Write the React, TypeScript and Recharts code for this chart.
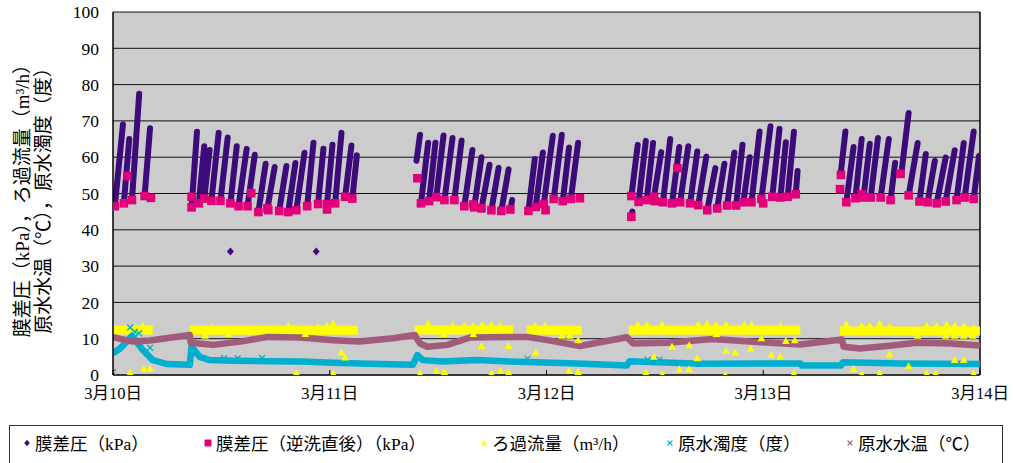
import React from 'react';
import { ComposedChart, Line, Scatter, XAxis, YAxis, CartesianGrid, ReferenceLine } from 'recharts';

const FONT = "'Liberation Serif', 'Noto Sans CJK JP', serif";
const PURPLE = '#3D0A7A';
const PINK = '#E2007A';
const YELLOW = '#FFFF00';
const CYAN = '#00AECF';
const MAUVE = '#A05C7A';

// x is hours from 3/10 0:00
const dateLabels = ['3月10日', '3月11日', '3月12日', '3月13日', '3月14日'];
const hourTicks = [0, 24, 48, 72, 96];
const yTicks = [0, 10, 20, 30, 40, 50, 60, 70, 80, 90, 100];

// 膜差圧 filtration cycles: [start h, start kPa, end h, end kPa]
const tmpCycles = [
  [0.2, 46.5, 1.1, 69], [1.2, 47.3, 1.8, 65], [2.1, 48.2, 2.9, 77.5], [3.5, 49.3, 4.1, 68],
  [8.7, 46.2, 9.3, 67], [9.5, 47.3, 10.1, 63], [10.1, 48.6, 10.7, 62], [10.9, 48, 11.7, 66.7],
  [11.9, 48, 12.7, 65.4], [13.0, 47.3, 13.7, 63], [13.9, 46.5, 14.8, 62.3], [14.9, 46.5, 15.7, 60.7],
  [16.1, 44.9, 16.9, 58.2], [17.1, 45.9, 17.9, 57.3], [18.4, 45.2, 19.2, 57.6], [19.4, 44.9, 20.2, 58.4],
  [20.3, 45.4, 21.2, 61.2], [21.5, 46.5, 22.2, 64], [22.7, 47.1, 23.3, 62.3], [23.7, 47.1, 24.3, 63.4],
  [24.6, 47.3, 25.3, 66.7], [25.7, 49.1, 26.4, 63.2], [26.5, 48.6, 27.0, 60.5],
  [33.6, 59, 34.0, 66.2], [34.1, 47.3, 34.9, 64], [35.0, 47.9, 35.7, 64], [35.8, 49, 36.6, 66],
  [36.7, 48.2, 37.6, 65.3], [37.8, 48.2, 38.6, 64.6], [38.9, 46.5, 39.8, 62], [40.0, 46.2, 40.8, 60],
  [40.8, 45.9, 41.7, 57.9], [41.9, 45.4, 42.7, 57.1], [43.0, 45.2, 43.8, 56.7], [44.0, 45.6, 44.2, 48.2],
  [46.0, 45.2, 46.7, 59.5], [46.8, 46.3, 47.6, 61.3], [47.7, 47.1, 48.7, 65.9], [48.8, 48.5, 49.7, 66.2],
  [49.8, 47.9, 50.5, 62.7], [50.7, 48.5, 51.5, 64],
  [57.3, 43.6, 57.5, 45], [57.4, 49.3, 58.1, 63.4], [58.2, 47.7, 59.0, 64.5], [59.1, 48.2, 59.8, 63.9],
  [59.9, 49.1, 60.7, 61.4], [60.9, 47.6, 61.7, 65], [61.9, 47.3, 62.7, 62.8], [62.8, 47.6, 63.7, 63],
  [63.9, 47.3, 64.7, 61.6], [64.8, 46.8, 65.7, 60.2], [65.8, 45.4, 66.7, 57], [66.9, 45.9, 67.7, 58.2],
  [68.0, 46.7, 68.8, 61.3], [69.0, 46.7, 69.7, 63.4], [69.8, 47.6, 70.5, 60], [70.7, 47.6, 71.6, 67.1],
  [71.8, 48.5, 72.8, 68.5], [73.0, 49.1, 73.8, 67.8], [73.9, 48.9, 74.5, 64.1], [74.7, 49.1, 75.4, 67],
  [75.6, 49.8, 75.8, 56.2],
  [80.6, 56, 81.1, 67.1], [81.2, 47.6, 82.0, 62.8], [82.2, 48.7, 82.9, 65], [83.1, 48.9, 83.8, 63.7],
  [83.9, 48.9, 84.7, 65.3], [85.0, 48.9, 85.9, 65], [86.1, 48.2, 86.6, 58.5], [87.3, 55.7, 88.1, 72.2],
  [88.1, 49.5, 89.1, 63.9], [89.3, 47.8, 90.0, 60.9], [90.2, 47.6, 91.0, 59], [91.2, 47.3, 92.2, 59.9],
  [92.2, 47.8, 93.2, 61.9], [93.4, 48.2, 94.2, 63.9], [94.3, 48.9, 95.3, 67.1], [95.3, 48.5, 95.9, 60.4],
];
const tmpStray = [[13.0, 34], [22.5, 34]];

// 膜差圧(逆洗直後)
const tmpAfterBackwash = [
  [0.2, 46.5], [1.2, 47.3], [1.6, 54.8], [2.1, 48.2], [3.5, 49.3], [4.2, 48.8],
  [8.7, 49.1], [8.7, 46.2], [9.5, 47.3], [10.1, 48.6], [10.9, 48], [11.9, 48], [13.0, 47.3], [13.9, 46.5],
  [14.9, 46.5], [15.3, 50.1], [16.1, 44.9], [17.1, 45.9], [17.2, 45.4], [18.4, 45.2], [19.4, 44.9],
  [20.3, 45.4], [21.5, 46.5], [22.7, 47.1], [23.7, 45.6], [23.7, 47.1], [24.6, 47.3], [25.7, 49.1], [26.5, 48.6],
  [33.7, 54.2], [34.1, 47.3], [35.0, 47.9], [35.8, 49], [36.7, 48.2], [37.8, 48.2], [38.9, 46.5], [39.9, 47],
  [40.0, 46.2], [40.8, 45.9], [41.9, 45.4], [43.0, 45.2], [44.0, 45.6],
  [46.0, 45.2], [46.8, 46.3], [47.7, 47.1], [47.9, 45.4], [48.8, 48.5], [49.8, 47.9], [50.7, 48.5], [51.7, 48.7],
  [57.4, 43.6], [57.4, 49.3], [58.2, 47.7], [59.1, 48.2], [59.9, 49.1], [60.0, 47.9], [60.9, 47.6], [61.9, 47.3],
  [62.5, 57], [62.8, 47.6], [63.9, 47.3], [64.8, 46.8], [65.8, 45.4], [66.9, 45.9], [68.0, 46.7], [69.0, 46.7],
  [69.8, 47.6], [70.7, 47.6], [71.8, 48.5], [72.0, 47.3], [73.0, 49.1], [73.9, 48.9], [74.7, 49.1], [75.6, 49.8],
  [80.5, 51.2], [80.6, 55.1], [81.2, 47.6], [82.2, 48.7], [82.9, 49.8], [83.1, 48.9], [83.9, 48.9], [85.0, 48.9],
  [86.1, 48.2], [87.2, 55.4], [88.1, 49.5], [89.3, 47.8], [90.2, 47.6], [91.2, 47.3], [92.2, 47.8], [93.4, 48.2],
  [94.3, 48.9], [95.3, 48.5],
];

// ろ過流量: runs [start h, end h, m3/h] and scattered readings
const flowRuns = [
  [0, 4.4, 12.4], [8.5, 27.1, 12.3], [33.4, 44.3, 12.4], [45.8, 51.9, 12.3], [57.1, 76.1, 12.3], [80.5, 96, 12.1],
];
const flowStray = [
  [1.9, 0.6], [3.3, 13.6], [3.4, 1.7], [4.1, 1.7],
  [10.2, 10.8], [10.9, 13.3], [12.8, 11.3], [19.4, 13.6], [20.3, 0.6], [21.3, 11.3], [22.7, 13.3], [23.7, 13.6],
  [24.4, 14.2], [24.4, 0.4], [25.3, 6.2], [25.7, 4.8],
  [34.0, 0.4], [34.9, 14.2], [35.8, 1.1], [36.6, 11.3], [36.7, 0.8], [37.6, 13.6], [38.9, 13.6], [39.9, 11.3],
  [39.9, 13.6], [40.8, 8.0], [40.9, 13.9], [41.9, 0.4], [41.9, 13.9], [42.9, 1.1], [42.9, 13.6], [43.8, 8.0], [43.8, 0.6],
  [46.7, 13.6], [46.8, 6.2], [47.8, 13.6], [49.7, 10.8], [50.5, 1.1], [50.6, 10.8], [51.5, 9.6], [51.5, 0.8],
  [58.1, 13.9], [59.0, 0.6], [59.1, 13.9], [59.9, 5.0], [60.8, 13.9], [60.8, 0.2], [61.9, 7.8], [62.7, 1.6],
  [63.8, 8.2], [63.8, 1.6], [64.7, 4.6], [64.8, 13.9], [65.8, 14.2], [66.8, 13.9], [66.8, 11.3], [67.8, 0.0],
  [67.9, 13.9], [67.9, 6.6], [68.9, 6.2], [69.9, 13.9], [70.6, 7.3], [70.7, 13.9], [71.8, 10.1], [72.9, 5.5],
  [73.9, 13.6], [73.9, 5.0], [74.5, 9.4], [75.4, 0.4], [75.5, 9.6],
  [81.2, 13.9], [82.0, 1.6], [82.9, 13.6], [82.9, 0.2], [83.8, 13.6], [84.9, 14.2], [84.9, 0.4], [86.0, 13.3],
  [86.0, 5.7], [88.1, 2.5], [89.1, 10.8], [90.1, 13.6], [90.1, 0.4], [91.1, 0.4], [91.2, 13.6], [92.2, 10.8],
  [92.3, 13.9], [93.2, 13.6], [93.2, 10.8], [93.2, 4.1], [94.2, 13.6], [94.2, 10.8], [94.2, 4.1], [95.2, 10.8],
  [95.3, 13.0], [95.3, 0.4],
];

// 原水濁度
const turbidity = [
  [0, 6], [0.8, 7.3], [2.1, 10.8], [3.3, 6.9], [4.4, 4.1], [6.0, 3.0], [8.5, 2.8], [8.7, 7.8], [9.6, 5.0],
  [10.7, 4.1], [13.3, 3.9], [17.1, 3.8], [20.7, 3.7], [24.4, 3.4], [27.3, 3.2], [33.2, 2.8], [33.7, 5.5],
  [34.3, 4.1], [36.5, 3.7], [40.3, 4.1], [44.0, 3.7], [51.4, 3.2], [56.9, 2.6], [57.2, 3.8], [65.0, 3.1],
  [76.1, 3.2], [76.3, 2.6], [80.6, 2.6], [80.8, 3.5], [87.2, 3.2], [96, 3.0],
];
const turbidityMarks = [
  [1.9, 13.1], [2.4, 11.9], [2.9, 11.5], [4.1, 7.5], [12.3, 4.6], [13.8, 4.6], [16.5, 4.7], [45.9, 4.5],
  [59.2, 4.2], [60.5, 4.2],
];

// 原水水温
const waterTemp = [
  [0, 10.4], [2.2, 9.2], [4.1, 9.5], [8.5, 11], [8.6, 8.9], [11.1, 8.3], [14.1, 9.2], [17.1, 10.5],
  [20.7, 10.3], [24.4, 9.6], [27.3, 9.2], [31.0, 10.1], [33.4, 11], [34.0, 8.7], [34.8, 7.8], [37.0, 8.3],
  [39.5, 10.3], [45.8, 10.5], [48.1, 9.6], [51.7, 8.0], [56.9, 10.4], [57.6, 8.7], [61.4, 8.9], [66.4, 9.9],
  [70.5, 9.2], [76.1, 8.4], [80.7, 9.8], [80.9, 7.8], [82.7, 7.3], [85.7, 8.0], [89.0, 8.9], [92.7, 8.7], [96, 8.1],
];
const waterTempMarks = [[0, 0.8]];

const legendItems = [
  { name: '膜差圧（kPa）', kind: 'diamond', color: PURPLE },
  { name: '膜差圧（逆洗直後）（kPa）', kind: 'square', color: PINK },
  { name: 'ろ過流量（m³/h）', kind: 'triangle', color: YELLOW },
  { name: '原水濁度（度）', kind: 'cross', color: CYAN },
  { name: '原水水温（℃）', kind: 'cross', color: MAUVE },
];
const legendLeft = [11, 192, 468, 654, 834];

const pts = (arr: number[][]) => arr.map(([x, y]) => ({ x, y }));
const tmpLine = tmpCycles.flatMap(([t0, v0, t1, v1]) => [
  { x: t0, y: v0 },
  { x: t1, y: v1 },
  { x: t1, y: null },
]);
const flowLine = flowRuns.flatMap(([a, b, v]) => [
  { x: a, y: v },
  { x: b, y: v },
  { x: b, y: null },
]);

const marker = (kind: string, color: string, cx: number, cy: number, s = 1) => {
  if (kind === 'diamond')
    return <polygon points={`${cx},${cy - 4 * s} ${cx + 3.5 * s},${cy} ${cx},${cy + 4 * s} ${cx - 3.5 * s},${cy}`} fill={color} />;
  if (kind === 'square') return <rect x={cx - 4.3 * s} y={cy - 4.3 * s} width={8.6 * s} height={8.6 * s} fill={color} />;
  if (kind === 'triangle')
    return <polygon points={`${cx},${cy - 4 * s} ${cx + 3.8 * s},${cy + 3 * s} ${cx - 3.8 * s},${cy + 3 * s}`} fill={color} />;
  return (
    <g stroke={color} strokeWidth={1.3}>
      <line x1={cx - 3 * s} y1={cy - 3 * s} x2={cx + 3 * s} y2={cy + 3 * s} />
      <line x1={cx - 3 * s} y1={cy + 3 * s} x2={cx + 3 * s} y2={cy - 3 * s} />
    </g>
  );
};

const shapeOf = (kind: string, color: string) => (p: any) => marker(kind, color, p.cx, p.cy);

const DateTick = (p: any) => {
  const { x, y, payload } = p;
  const i = hourTicks.indexOf(payload.value);
  return (
    <g>
      <line x1={x} x2={x} y1={y} y2={y - 5} stroke="#000" />
      <text x={x} y={y + 24} textAnchor="middle" fontSize={16.5} fill="#000" fontFamily={FONT}>
        {dateLabels[i]}
      </text>
    </g>
  );
};

export default function App() {
  return (
    <div style={{ position: 'absolute', left: 0, top: 0, width: 1013, height: 463, background: '#fff', overflow: 'hidden' }}>
      <ComposedChart width={1013} height={463} margin={{ top: 12, right: 33, bottom: 58, left: 0 }}>
        <CartesianGrid vertical={false} stroke="#111" fill="#CCCCCC" fillOpacity={1} />
        <XAxis
          dataKey="x"
          type="number"
          domain={[0, 96]}
          ticks={hourTicks}
          height={30}
          tickSize={0}
          tickMargin={0}
          tickLine={false}
          tick={<DateTick />}
          axisLine={{ stroke: '#222', strokeWidth: 1.5 }}
          allowDataOverflow
        />
        <YAxis
          type="number"
          domain={[0, 100]}
          ticks={yTicks}
          width={113}
          tickSize={0}
          tickMargin={14}
          tickLine={false}
          axisLine={{ stroke: '#000', strokeWidth: 1.5 }}
          tick={{ fontSize: 17.5, fill: '#000', fontFamily: FONT }}
          allowDataOverflow
        />
        <ReferenceLine x={96} stroke="#000" strokeWidth={1.5} />
        <Line data={tmpLine} dataKey="y" stroke={PURPLE} strokeWidth={6} strokeLinecap="round" dot={false} activeDot={false} isAnimationActive={false} legendType="none" />
        <Scatter data={pts(tmpStray)} dataKey="y" shape={shapeOf('diamond', PURPLE)} isAnimationActive={false} legendType="none" />
        <Scatter data={pts(tmpAfterBackwash)} dataKey="y" shape={shapeOf('square', PINK)} isAnimationActive={false} legendType="none" />
        <Line data={flowLine} dataKey="y" stroke={YELLOW} strokeWidth={9} dot={false} activeDot={false} isAnimationActive={false} legendType="none" />
        <Scatter data={pts(flowStray)} dataKey="y" shape={shapeOf('triangle', YELLOW)} isAnimationActive={false} legendType="none" />
        <Line data={pts(turbidity)} dataKey="y" stroke={CYAN} strokeWidth={6.5} strokeLinejoin="round" dot={false} activeDot={false} isAnimationActive={false} legendType="none" />
        <Scatter data={pts(turbidityMarks)} dataKey="y" shape={shapeOf('cross', CYAN)} isAnimationActive={false} legendType="none" />
        <Line data={pts(waterTemp)} dataKey="y" stroke={MAUVE} strokeWidth={6.5} strokeLinejoin="round" dot={false} activeDot={false} isAnimationActive={false} legendType="none" />
        <Scatter data={pts(waterTempMarks)} dataKey="y" shape={shapeOf('cross', MAUVE)} isAnimationActive={false} legendType="none" />
      </ComposedChart>

      <div
        style={{
          position: 'absolute',
          left: 33 - 160,
          top: 196 - 21,
          width: 320,
          height: 42,
          transform: 'rotate(-90deg)',
          textAlign: 'center',
          fontFamily: FONT,
          fontSize: 19,
          lineHeight: '21px',
          color: '#000',
          whiteSpace: 'nowrap',
        }}
      >
        <div>膜差圧（kPa），ろ過流量（m³/h）</div>
        <div>原水水温（℃），原水濁度（度）</div>
      </div>

      <div
        style={{
          position: 'absolute',
          left: 9,
          top: 425,
          width: 994,
          height: 60,
          border: '1px solid #333',
          boxSizing: 'border-box',
          fontFamily: FONT,
          fontSize: 17.5,
          color: '#000',
        }}
      >
        {legendItems.map((it, i) => (
          <div key={it.name} style={{ position: 'absolute', left: legendLeft[i], top: 4, display: 'flex', alignItems: 'center', whiteSpace: 'nowrap' }}>
            <svg width={12} height={12} style={{ marginRight: 2 }}>
              {marker(it.kind, it.color, 6, 6, 0.8)}
            </svg>
            <span>{it.name}</span>
          </div>
        ))}
      </div>
    </div>
  );
}
